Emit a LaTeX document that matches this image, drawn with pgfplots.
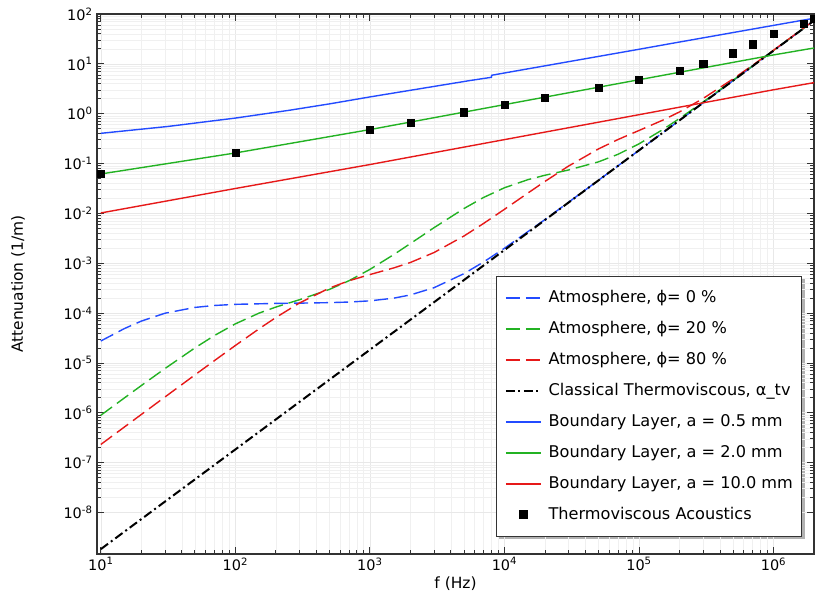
\documentclass[border=0pt]{standalone}
\usepackage{fontspec}
\setmainfont{DejaVu Sans}
\usepackage{pgfplots}
\pgfplotsset{compat=1.18}
\pgfdeclarelayer{background}
\pgfsetlayers{background,main}
\definecolor{cblue}{RGB}{35,75,255}
\definecolor{cgreen}{RGB}{35,178,35}
\definecolor{cred}{RGB}{230,25,25}
\begin{document}
\begin{tikzpicture}
\begin{axis}[
  scale only axis, width=717bp, height=540bp,
  xmode=log, ymode=log,
  xmin=9.37, xmax=2e6, ymin=1.47e-9, ymax=100,
  xtick={10,100,1000,10000,100000,1000000},
  xticklabels={10\textsuperscript{1},10\textsuperscript{2},10\textsuperscript{3},10\textsuperscript{4},10\textsuperscript{5},10\textsuperscript{6}},
  minor xtick={20,30,40,50,60,70,80,90,200,300,400,500,600,700,800,900,2000,3000,4000,5000,6000,7000,8000,9000,20000,30000,40000,50000,60000,70000,80000,90000,200000,300000,400000,500000,600000,700000,800000,900000,2000000},
  ytick={1e-8,1e-7,1e-6,1e-5,1e-4,1e-3,1e-2,1e-1,1,10,100},
  yticklabels={10\textsuperscript{-8},10\textsuperscript{-7},10\textsuperscript{-6},10\textsuperscript{-5},10\textsuperscript{-4},10\textsuperscript{-3},10\textsuperscript{-2},10\textsuperscript{-1},10\textsuperscript{0},10\textsuperscript{1},10\textsuperscript{2}},
  tick align=inside,
  major tick length=7bp, minor tick length=4.5bp,
  every tick/.style={black!80, line width=0.8bp},
  grid=both,
  major grid style={draw=black!9, line width=0.6bp},
  minor grid style={draw=black!6, line width=0.6bp},
  axis line style={line width=1.3bp, draw=black!80},
  tick label style={font=\fontsize{14.5}{16}\selectfont},
  yticklabel style={xshift=-1bp},
  xlabel={f (Hz)}, ylabel={Attenuation (1/m)},
  every axis x label/.style={at={(axis description cs:0.5,-0.0426)}, anchor=north, inner sep=0pt, font=\fontsize{15.5}{17}\selectfont},
  every axis y label/.style={at={(axis description cs:-0.110,0.5)}, rotate=90, anchor=center, inner sep=0pt, font=\fontsize{15.5}{17}\selectfont},
  legend cell align=left,
  legend image code/.code={\draw[mark repeat=2,mark phase=2,#1,line width=1.6bp] plot coordinates {(0bp,0bp) (17.5bp,0bp) (35bp,0bp)};},
  legend style={name=leg, at={(axis description cs:0.9837,0.032037)}, anchor=south east,
    draw=black!80, line width=0.9bp, fill=white,
    font=\fontsize{16.2}{18}\selectfont,
    nodes={inner sep=0pt, text height=12bp, text depth=3.5bp},
    row sep=15.5bp, column sep=7bp, inner xsep=9bp, inner ysep=13.75bp},
]
\addplot[cblue, line width=1.4bp, dash pattern=on 14bp off 6bp] coordinates {
(10,2.755e-5) (15,4.905e-5) (20,6.907e-5) (30,9.944e-5) (50,1.2992e-4) (70,1.4221e-4)
(100,1.4987e-4) (200,1.5642e-4) (300,1.5851e-4) (500,1.6206e-4) (700,1.6669e-4)
(1000,1.7612e-4) (1500,1.9916e-4) (2000,2.314e-4) (3000,3.234e-4) (5000,6.178e-4)
(7000,1.0594e-3) (10000,1.998e-3) (20000,7.518e-3) (50000,0.04616) (100000,0.1842)
(200000,0.7362) (500000,4.6002) (1000000,18.4002) (2000000,73.6002)};
\addlegendentry{Atmosphere, ϕ= 0 \%}
\addplot[cgreen, line width=1.4bp, dash pattern=on 14bp off 6bp] coordinates {
(10,8.920e-7) (15,1.995e-6) (20,3.517e-6) (30,7.729e-6) (50,1.9987e-5) (70,3.555e-5)
(100,6.088e-5) (150,9.988e-5) (200,1.3207e-4) (300,1.857e-4) (500,2.9816e-4) (700,4.468e-4)
(1000,7.523e-4) (1500,1.4843e-3) (2000,2.4813e-3) (3000,5.1745e-3) (5000,0.012508)
(7000,0.020873) (10000,0.032666) (15000,0.047645) (20000,0.058198) (30000,0.074365)
(50000,0.10817) (70000,0.15365) (100000,0.24822) (150000,0.47861) (200000,0.80075)
(300000,1.7209) (500000,4.6649) (1000000,18.465) (2000000,73.665)};
\addlegendentry{Atmosphere, ϕ= 20 \%}
\addplot[cred, line width=1.4bp, dash pattern=on 14bp off 6bp] coordinates {
(10,2.314e-7) (15,5.206e-7) (20,9.249e-7) (30,2.0775e-6) (50,5.7394e-6) (70,1.1158e-5)
(100,2.2387e-5) (150,4.8372e-5) (200,8.149e-5) (300,1.5977e-4) (500,3.1776e-4) (700,4.4571e-4)
(1000,5.929e-4) (1500,8.0428e-4) (2000,1.03619e-3) (3000,1.64153e-3) (5000,3.5138e-3)
(7000,6.2843e-3) (10000,0.012073) (15000,0.025748) (20000,0.04377) (30000,0.089276)
(50000,0.19657) (70000,0.30425) (100000,0.46004) (150000,0.74054) (200000,1.08489)
(300000,2.0228) (500000,4.9767) (700000,9.3956) (1000000,18.781) (2000000,73.982)};
\addlegendentry{Atmosphere, ϕ= 80 \%}
\addplot[black, line width=2bp, dash pattern=on 9bp off 3.5bp on 2bp off 3.5bp] coordinates {
(10,1.84e-9) (2000000,73.6)};
\addlegendentry{Classical Thermoviscous, α\_tv}
\addplot[cblue, line width=1.4bp] coordinates {
(10,0.404) (31.6,0.555) (100,0.817) (251,1.17) (501,1.574) (1000,2.17) (5530,4.62) (8000,5.37) (8040,5.90)
(10000,6.56) (100000,19.6) (168000,25.2) (1000000,59.1) (2000000,82.2)};
\addlegendentry{Boundary Layer, a = 0.5 mm}
\addplot[cgreen, line width=1.4bp] coordinates {
(10,0.0618) (100,0.163) (1000,0.48) (10000,1.52) (100000,4.8) (1000000,15.1) (2000000,20.8)};
\addlegendentry{Boundary Layer, a = 2.0 mm}
\addplot[cred, line width=1.4bp] coordinates {
(10,0.0102) (100,0.0316) (1000,0.0955) (10000,0.302) (100000,0.955) (1000000,3.02) (2000000,4.2)};
\addlegendentry{Boundary Layer, a = 10.0 mm}
\addplot[only marks, mark=square*, mark size=3.6bp, black] coordinates {
(10,0.062) (100,0.163) (1000,0.48) (2000,0.67) (5000,1.07) (10000,1.50) (20000,2.1)
(50000,3.3) (100000,4.78) (200000,7.4) (300000,10.1) (500000,16.3) (700000,24.8)
(1000000,40) (1670000,64.4) (2000000,81)};
\addlegendentry{Thermoviscous Acoustics}
\end{axis}
\begin{pgfonlayer}{background}
\fill[black!30] ([xshift=2.5bp,yshift=-2.5bp]leg.south west) rectangle ([xshift=2.5bp,yshift=-2.5bp]leg.north east);
\end{pgfonlayer}
\pgfresetboundingbox
\path (-97bp,-42bp) rectangle (718bp,554bp);
\end{tikzpicture}
\end{document}
